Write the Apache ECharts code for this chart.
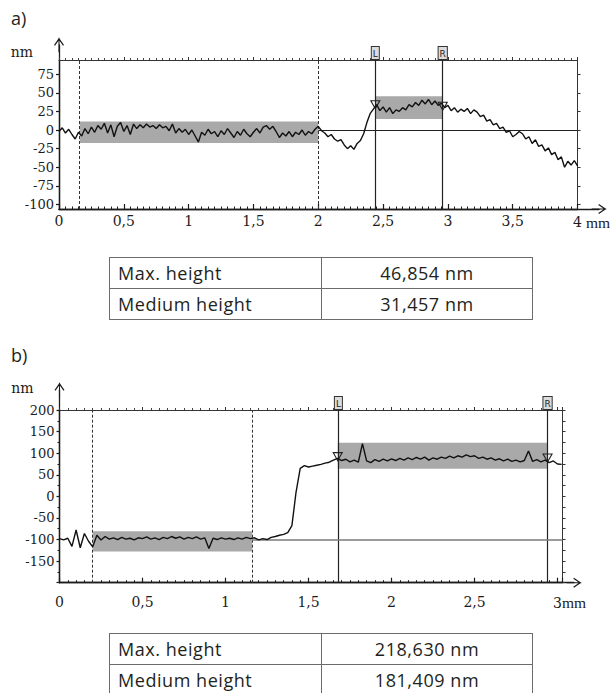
<!DOCTYPE html>
<html>
<head>
<meta charset="utf-8">
<script src="https://cdn.jsdelivr.net/npm/echarts@6/dist/echarts.min.js"></script>
<style>
  html, body { margin: 0; padding: 0; background: #fff; }
  #chart { position: absolute; left: 0; top: 0; width: 613px; height: 693px; }
  .tbl { position: absolute; left: 109px; width: 424px; box-sizing: border-box;
         border: 1.5px solid #6b6b6b; font-family: "Open Sans", sans-serif;
         font-size: 18px; letter-spacing: 0.55px; color: #231f20; background: #fff; }
  .row { display: flex; height: 30px; }
  .row + .row { border-top: 1.5px solid #6b6b6b; }
  .cell { line-height: 30px; white-space: nowrap; }
  .cell.k { width: 212px; box-sizing: border-box; padding-left: 8px; border-right: 1.5px solid #6b6b6b; }
  .cell.v { flex: 1; text-align: center; }
</style>
</head>
<body>
<div id="chart"></div>
<script>
// ---- Profile a): heights (nm) sampled every stepA mm from 0 to 4 mm ----
const stepA = 0.025;
const heightA = [
  -2, 3, -4, 1, -6, -12, -3, -8, 2, -5,
  4, -3, 6, 1, 9, -4, 7, -9, 5, 10,
  -2, 6, -6, 8, 2, 7, 3, 8, 4, 6,
  2, 7, 3, 5, -1, 8, -4, 2, -3, 1,
  -6, 0, -8, -16, -3, -7, 1, -5, -2, -9,
  -1, -6, 2, -4, -10, -2, -7, 1, -5, -9,
  -3, 2, -4, 4, 6, 1, 5, -2, -10, -4,
  -8, -2, -9, -3, -6, 0, -7, -2, -5, 1,
  5, -1, -4, -9, -6, -12, -15, -13, -20, -25,
  -21, -26, -18, -14, -5, 10, 22, 28, 34, 26,
  31, 24, 30, 22, 27, 25, 30, 27, 34, 31,
  37, 33, 40, 35, 41, 34, 39, 33, 36, 30,
  33, 26, 30, 24, 28, 25, 29, 22, 27, 24,
  18, 20, 12, 14, 7, 9, 2, 4, -3, -1,
  -9, -6, -2, -5, -12, -9, -18, -13, -22, -20,
  -28, -24, -33, -30, -40, -36, -50, -42, -47, -41,
  -48
];
const xRangeA = [0, 4];
const yRangeA = [-106, 94];
const yTicksA = [-100, -75, -50, -25, 0, 25, 50, 75];
const guidesA = [0.16, 2.0];
const cursorsA = [['L', 2.44, 34], ['R', 2.96, 32]];
const bandsA = [[0.16, 2.0, -17.5, 11.6], [2.44, 2.96, 14.8, 45.2]];
const levelA = [2.0, 4, 0];
const tableA = [['Max. height', '46,854 nm'], ['Medium height', '31,457 nm']];

// ---- Profile b): heights (nm) sampled every stepB mm from 0 to ~3 mm ----
const stepB = 0.025;
const heightB = [
  -98, -101, -97, -116, -78, -119, -86, -104, -117, -90,
  -101, -93, -99, -96, -100, -95, -99, -97, -101, -96,
  -98, -94, -99, -96, -100, -95, -98, -93, -97, -94,
  -99, -95, -98, -94, -99, -96, -121, -97, -100, -96,
  -99, -97, -100, -96, -99, -95, -98, -96, -101, -98,
  -100, -95, -93, -90, -88, -84, -68, 10, 65, 71,
  68, 70, 72, 74, 77, 79, 84, 88, 83, 86,
  80, 84, 79, 122, 82, 78, 85, 81, 86, 82,
  87, 83, 88, 84, 89, 85, 90, 86, 91, 84,
  89, 86, 91, 88, 93, 89, 94, 91, 96, 92,
  94, 88, 91, 86, 89, 84, 87, 82, 86, 81,
  84, 80, 83, 105, 81, 85, 80, 84, 78, 82,
  75, 74
];
const xRangeB = [0, 3.03];
const xTicksB = [0, 0.5, 1, 1.5, 2, 2.5, 3];
const yRangeB = [-200, 200];
const guidesB = [0.2, 1.16];
const cursorsB = [['L', 1.676, 92], ['R', 2.94, 89]];
const bandsB = [[0.2, 1.16, -128, -81], [1.676, 2.94, 64, 124]];
const levelB = [1.16, 3.03, -100];
const tableB = [['Max. height', '218,630 nm'], ['Medium height', '181,409 nm']];

// ---- shared styling ----
const SERIF = '"DejaVu Serif", "Liberation Serif", serif';
const INK = '#1c1c1c';
const ARROW = 'path://M0,0 L5.5,8 L4.4,8.8 L0,2.4 L-4.4,8.8 L-5.5,8 Z M-0.6,0 L0.6,0 L0.6,16 L-0.6,16 Z';
const BAND = '#a9a9a9';
const TRI = 'path://M0,0 L10,0 L5,9 Z';

const num = v => String(+Number(v).toFixed(2)).replace('.', ',');
// the last tick carries the unit; a spacer of the unit's width keeps the number on its tick
const unitLabel = (last, gap) => v =>
  Math.abs(v - last) < 1e-9 ? '{s|}{v|' + num(v) + '}{u|' + gap + 'mm}' : num(v);
const unitRich = spacer => ({
  s: { width: spacer },
  v: { fontFamily: SERIF, fontSize: 14, color: INK },
  u: { fontFamily: '"Liberation Serif", serif', fontSize: 15.5, color: INK }
});
const toPoints = (arr, step) => arr.map((h, i) => [Number((i * step).toFixed(4)), h]);

function profileSeries(xi, yi, data, guides, cursors, bands, level, levelColor, levelWidth) {
  const lines = [];
  guides.forEach(x => lines.push({
    xAxis: x, label: { show: false },
    lineStyle: { type: [3, 2], color: '#333', width: 1 }
  }));
  cursors.forEach(([name, x]) => lines.push({
    xAxis: x,
    lineStyle: { type: 'solid', color: '#222', width: 1.2 },
    label: {
      show: true, position: 'end', distance: 1, formatter: name,
      fontFamily: 'DejaVu Sans', fontSize: 9, color: '#222',
      backgroundColor: '#dcdcdc', borderColor: '#333', borderWidth: 1,
      padding: [2, 1, 1, 1]
    }
  }));
  lines.push([
    { coord: [level[0], level[2]], lineStyle: { type: 'solid', color: levelColor, width: levelWidth }, label: { show: false } },
    { coord: [level[1], level[2]] }
  ]);
  return {
    type: 'line', xAxisIndex: xi, yAxisIndex: yi, data,
    showSymbol: false, silent: true, animation: false,
    lineStyle: { color: '#111', width: 1.4 },
    z: 5,
    markArea: {
      silent: true,
      itemStyle: { color: BAND },
      data: bands.map(b => [{ xAxis: b[0], yAxis: b[2] }, { xAxis: b[1], yAxis: b[3] }])
    },
    markLine: { silent: true, symbol: ['none', 'none'], animation: false, data: lines },
    markPoint: {
      silent: true, symbol: TRI, symbolSize: [9, 8], animation: false,
      itemStyle: { color: 'rgba(255,255,255,0)', borderColor: '#222', borderWidth: 1.1 },
      label: { show: false },
      data: cursors.map(c => ({ coord: [c[1], c[2]] }))
    }
  };
}

const axisLineStyle = { color: INK, width: 1.3 };
const hidden = { axisLabel: { show: false }, splitLine: { show: false } };

const option = {
  backgroundColor: '#fff',
  animation: false,
  graphic: [
    { type: 'text', left: 11, top: 9, style: { text: 'a)', font: '18px "Open Sans"', fill: '#231f20' } },
    { type: 'text', left: 11, top: 346, style: { text: 'b)', font: '18px "Open Sans"', fill: '#231f20' } }
  ],
  grid: [
    { left: 59, top: 60, width: 525, height: 149 },
    { left: 59, top: 45, width: 540, height: 164 },
    { left: 59.5, top: 410, width: 503, height: 172.7 },
    { left: 59.5, top: 390, width: 514.5, height: 192.7 }
  ],
  xAxis: [
    { // a) bottom
      gridIndex: 0, type: 'value', min: xRangeA[0], max: xRangeA[1], interval: 0.5,
      axisLine: { onZero: false, lineStyle: axisLineStyle },
      axisTick: { inside: true, length: 5, lineStyle: { color: INK, width: 1.2 } },
      minorTick: { show: true, splitNumber: 10, length: 2.5, lineStyle: { color: INK, width: 1 } },
      axisLabel: { formatter: unitLabel(xRangeA[1], ' '), rich: unitRich(28), fontFamily: SERIF, fontSize: 14, color: INK, margin: 5 },
      splitLine: { show: false }
    },
    { // a) top frame
      gridIndex: 0, type: 'value', position: 'top', min: xRangeA[0], max: xRangeA[1], interval: 0.5,
      axisLine: { onZero: false, lineStyle: { color: '#333', width: 1 } },
      axisTick: { length: 3, lineStyle: { color: '#333', width: 1 } },
      minorTick: { show: true, splitNumber: 10, length: 2, lineStyle: { color: '#444', width: 1 } },
      ...hidden
    },
    { // a) arrow x
      gridIndex: 1, type: 'value', min: 0, max: 1,
      axisLine: { onZero: false, symbol: ['none', ARROW], symbolSize: [10, 16], lineStyle: axisLineStyle },
      axisTick: { show: false }, ...hidden
    },
    { // b) bottom
      gridIndex: 2, type: 'value', min: xRangeB[0], max: xRangeB[1], interval: 0.5,
      axisLine: { onZero: false, lineStyle: axisLineStyle },
      axisTick: { inside: true, length: 5, lineStyle: { color: INK, width: 1.2 } },
      minorTick: { show: true, splitNumber: 10, length: 2.5, lineStyle: { color: INK, width: 1 } },
      axisLabel: { customValues: xTicksB, formatter: unitLabel(3, ''), rich: unitRich(24), fontFamily: SERIF, fontSize: 14, color: INK, margin: 12 },
      splitLine: { show: false }
    },
    { // b) top frame
      gridIndex: 2, type: 'value', position: 'top', min: xRangeB[0], max: xRangeB[1], interval: 0.5,
      axisLine: { onZero: false, lineStyle: { color: '#333', width: 1 } },
      axisTick: { length: 3, lineStyle: { color: '#333', width: 1 } },
      minorTick: { show: true, splitNumber: 10, length: 2, lineStyle: { color: '#444', width: 1 } },
      ...hidden
    },
    { // b) arrow x
      gridIndex: 3, type: 'value', min: 0, max: 1,
      axisLine: { onZero: false, symbol: ['none', ARROW], symbolSize: [10, 16], lineStyle: axisLineStyle },
      axisTick: { show: false }, ...hidden
    }
  ],
  yAxis: [
    { // a) left
      gridIndex: 0, type: 'value', min: yRangeA[0], max: yRangeA[1],
      axisLine: { show: true, onZero: false, lineStyle: axisLineStyle },
      axisTick: { show: true, customValues: yTicksA, length: 3, lineStyle: { color: INK, width: 1.2 } },
      axisLabel: { customValues: yTicksA, fontFamily: SERIF, fontSize: 13, color: INK, margin: 5 },
      splitLine: { show: false },
      name: 'nm', nameLocation: 'end', nameGap: 1,
      nameTextStyle: { fontFamily: SERIF, fontSize: 14, color: INK, align: 'right', padding: [0, 26, 0, 0] }
    },
    { // a) right frame
      gridIndex: 0, type: 'value', position: 'right', min: yRangeA[0], max: yRangeA[1],
      axisLine: { show: true, onZero: false, lineStyle: { color: '#333', width: 1 } },
      axisTick: { show: true, customValues: yTicksA, length: 3, lineStyle: { color: '#333', width: 1 } },
      ...hidden
    },
    { // a) arrow y
      gridIndex: 1, type: 'value', min: 0, max: 1,
      axisLine: { show: true, onZero: false, symbol: ['none', ARROW], symbolSize: [10, 16], lineStyle: axisLineStyle },
      axisTick: { show: false }, ...hidden
    },
    { // b) left
      gridIndex: 2, type: 'value', min: yRangeB[0], max: yRangeB[1], interval: 50,
      axisLine: { show: true, onZero: false, lineStyle: axisLineStyle },
      axisTick: { show: true, length: 3, lineStyle: { color: INK, width: 1.2 } },
      minorTick: { show: true, splitNumber: 2, length: 2, lineStyle: { color: INK, width: 1 } },
      axisLabel: { showMinLabel: false, fontFamily: SERIF, fontSize: 13, color: INK, margin: 5 },
      splitLine: { show: false },
      name: 'nm', nameLocation: 'end', nameGap: 15,
      nameTextStyle: { fontFamily: SERIF, fontSize: 14, color: INK, align: 'right', padding: [0, 26, 0, 0] }
    },
    { // b) right frame
      gridIndex: 2, type: 'value', position: 'right', min: yRangeB[0], max: yRangeB[1], interval: 25,
      axisLine: { show: true, onZero: false, lineStyle: { color: '#333', width: 1 } },
      axisTick: { show: true, length: 3, lineStyle: { color: '#333', width: 1 } },
      ...hidden
    },
    { // b) arrow y
      gridIndex: 3, type: 'value', min: 0, max: 1,
      axisLine: { show: true, onZero: false, symbol: ['none', ARROW], symbolSize: [10, 16], lineStyle: axisLineStyle },
      axisTick: { show: false }, ...hidden
    }
  ],
  series: [
    profileSeries(0, 0, toPoints(heightA, stepA), guidesA, cursorsA, bandsA, levelA, '#222', 1),
    profileSeries(3, 3, toPoints(heightB, stepB), guidesB, cursorsB, bandsB, levelB, '#7a7a7a', 1.6)
  ]
};

const chart = echarts.init(document.getElementById('chart'), null, { renderer: 'svg' });
chart.setOption(option);

// ---- result tables under each profile ----
function buildTable(rows, top) {
  const t = document.createElement('div');
  t.className = 'tbl';
  t.style.top = top + 'px';
  rows.forEach(([k, v]) => {
    const r = document.createElement('div');
    r.className = 'row';
    const a = document.createElement('div'); a.className = 'cell k'; a.textContent = k;
    const b = document.createElement('div'); b.className = 'cell v'; b.textContent = v;
    r.appendChild(a); r.appendChild(b); t.appendChild(r);
  });
  document.body.appendChild(t);
}
buildTable(tableA, 257);
buildTable(tableB, 633);
</script>
</body>
</html>
